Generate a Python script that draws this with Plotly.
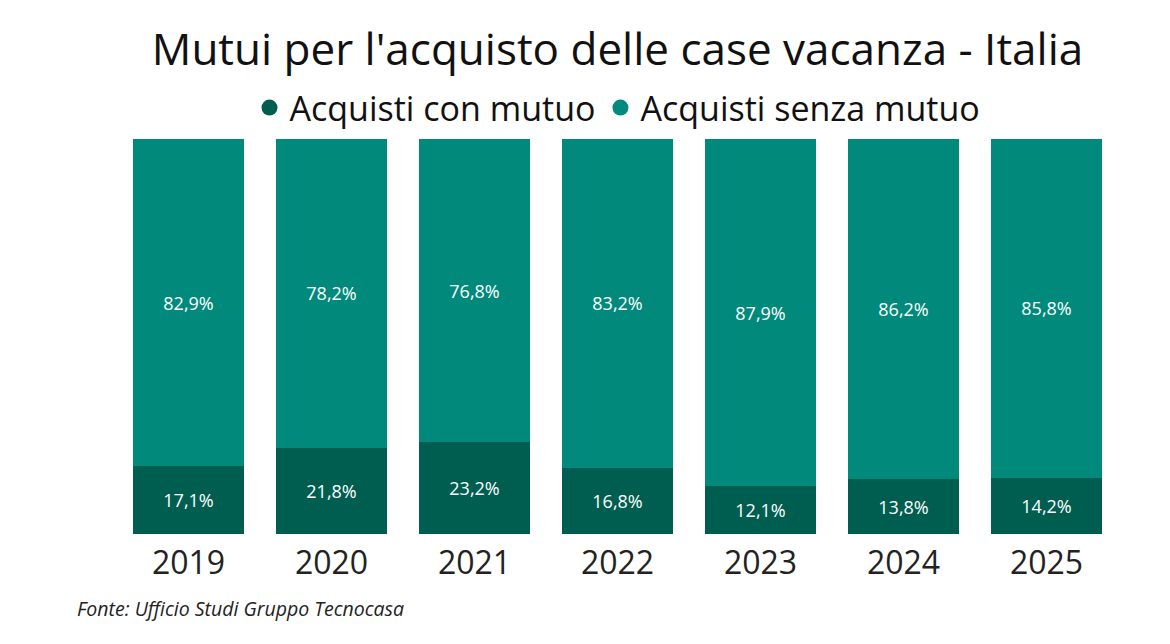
import plotly.graph_objects as go

anni = ["2019", "2020", "2021", "2022", "2023", "2024", "2025"]
con_mutuo = [17.1, 21.8, 23.2, 16.8, 12.1, 13.8, 14.2]
senza_mutuo = [82.9, 78.2, 76.8, 83.2, 87.9, 86.2, 85.8]

scuro = "#005e50"
chiaro = "#01897b"
font = "Open Sans"

# la pagina html ha 8px di margine sul body
off = 8
W, H = 1170, 644
x0, x1, y0, y1 = 117 - off, 1118 - off, 139 - off, 534 - off


def etichette(valori):
    return [f"{v:.1f}%".replace(".", ",") for v in valori]


fig = go.Figure()

fig.add_trace(go.Bar(
    x=anni, y=con_mutuo, name="Acquisti con mutuo",
    marker_color=scuro, marker_line_width=0,
    text=etichette(con_mutuo), textposition="inside",
    insidetextanchor="middle", textangle=0,
    textfont=dict(color="white", size=18, family=font),
    showlegend=False, hoverinfo="skip",
))
fig.add_trace(go.Bar(
    x=anni, y=senza_mutuo, name="Acquisti senza mutuo",
    marker_color=chiaro, marker_line_width=0,
    text=etichette(senza_mutuo), textposition="inside",
    insidetextanchor="middle", textangle=0,
    textfont=dict(color="white", size=18, family=font),
    showlegend=False, hoverinfo="skip",
))

# voci di legenda con il pallino
for nome, col in [("Acquisti con mutuo", scuro), ("Acquisti senza mutuo", chiaro)]:
    fig.add_trace(go.Scatter(
        x=[None], y=[None], mode="markers", name=nome,
        marker=dict(symbol="circle", size=19, color=col),
    ))

ph = y1 - y0
fig.update_layout(
    width=W, height=H,
    barmode="stack", bargap=0.224,
    plot_bgcolor="white", paper_bgcolor="white",
    margin=dict(l=x0, r=W - x1, t=y0, b=H - y1),
    font=dict(family=font, color="#111"),
    title=dict(
        text="Mutui per l'acquisto delle case vacanza - Italia",
        x=0.5, xref="paper", xanchor="center",
        y=1 - (50 - off) / H, yanchor="middle",
        font=dict(size=44, color="#111", family=font),
    ),
    legend=dict(
        orientation="h", x=0.5, xanchor="center",
        y=(y1 - (108 - off)) / ph, yanchor="middle",
        font=dict(size=34, color="#111", family=font),
        itemsizing="trace", itemwidth=30,
        traceorder="normal",
    ),
    xaxis=dict(
        showgrid=False, showline=False,
        ticks="outside", ticklen=1, tickcolor="white",
        tickfont=dict(size=32, color="#222", family=font),
        fixedrange=True,
    ),
    yaxis=dict(range=[0, 100], visible=False, fixedrange=True),
    uniformtext=dict(minsize=10, mode="show"),
)

fig.add_annotation(
    text="<i>Fonte: Ufficio Studi Gruppo Tecnocasa</i>",
    xref="paper", yref="paper",
    x=(75 - off - x0) / (x1 - x0), xanchor="left",
    y=-((608 - off) - y1) / ph, yanchor="middle",
    showarrow=False,
    font=dict(size=19.5, color="#222", family=font),
)

fig.write_html("out.html")
